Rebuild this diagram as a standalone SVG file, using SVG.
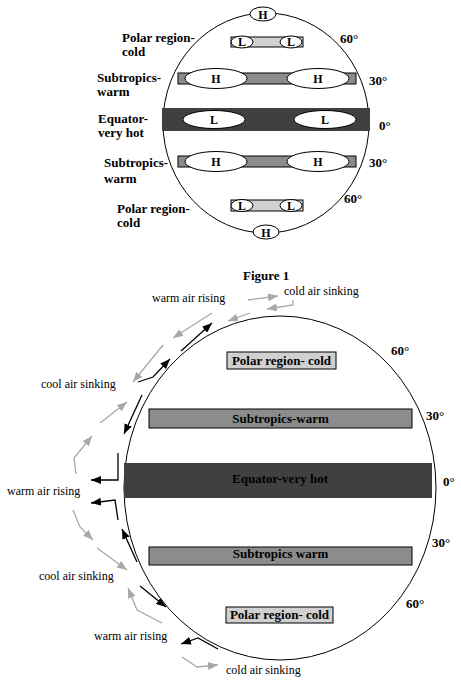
<svg xmlns="http://www.w3.org/2000/svg" width="461" height="683" viewBox="0 0 461 683">
<style>
.lb{font-family:"Liberation Serif","Times New Roman",serif;font-weight:bold;font-size:13px;fill:#000}
.hl{font-family:"Liberation Serif","Times New Roman",serif;font-weight:bold;font-size:12px;fill:#000;text-anchor:middle}
.rg{font-family:"Liberation Serif","Times New Roman",serif;font-size:12px;fill:#000}
.out{fill:none;stroke:#000;stroke-width:1}
.pol{fill:#d0d0d0;stroke:#000;stroke-width:1}
.sub{fill:#8c8c8c;stroke:#000;stroke-width:1}
.eq{fill:#404040}
.ov{fill:#fff;stroke:#000;stroke-width:1}
.bk{fill:none;stroke:#000;stroke-width:1.3;marker-end:url(#ab)}
.gy{fill:none;stroke:#a8a8a8;stroke-width:1.3;marker-end:url(#ag)}
</style>
<defs>
<marker id="ab" viewBox="0 0 10 8" refX="10" refY="4" markerWidth="10" markerHeight="8" markerUnits="userSpaceOnUse" orient="auto"><path d="M0,0 L10,4 L0,8 z" fill="#000"/></marker>
<marker id="ag" viewBox="0 0 10 8" refX="10" refY="4" markerWidth="10" markerHeight="8" markerUnits="userSpaceOnUse" orient="auto"><path d="M0,0 L10,4 L0,8 z" fill="#a8a8a8"/></marker>
</defs>
<rect width="461" height="683" fill="#fff"/>

<!-- Figure 1 -->
<g id="globe1">
<ellipse class="out" cx="266" cy="123" rx="103" ry="110"/>
</g>
<g id="equator1">
<rect class="eq" x="162" y="108" width="208" height="23"/>
<ellipse class="ov" cx="214" cy="119.5" rx="31" ry="9"/><text class="hl" x="214" y="124">L</text>
<ellipse class="ov" cx="325" cy="119.5" rx="31" ry="9"/><text class="hl" x="325" y="124">L</text>
</g>
<g id="subN1">
<rect class="sub" x="178" y="73" width="178" height="11"/>
<ellipse class="ov" cx="216" cy="78.5" rx="31" ry="10"/><text class="hl" x="216" y="83">H</text>
<ellipse class="ov" cx="318" cy="78.5" rx="31" ry="10"/><text class="hl" x="318" y="83">H</text>
</g>
<g id="subS1">
<rect class="sub" x="178" y="156" width="178" height="11"/>
<ellipse class="ov" cx="216" cy="161.5" rx="31" ry="10"/><text class="hl" x="216" y="166">H</text>
<ellipse class="ov" cx="318" cy="161.5" rx="31" ry="10"/><text class="hl" x="318" y="166">H</text>
</g>
<g id="polN1">
<rect class="pol" x="231" y="37" width="72" height="10"/>
<ellipse class="ov" cx="242" cy="42" rx="11" ry="6"/><text class="hl" x="242" y="46">L</text>
<ellipse class="ov" cx="291" cy="42" rx="11" ry="6"/><text class="hl" x="291" y="46">L</text>
</g>
<g id="polS1">
<rect class="pol" x="231" y="200" width="72" height="11"/>
<ellipse class="ov" cx="242" cy="205.5" rx="11" ry="6"/><text class="hl" x="242" y="210">L</text>
<ellipse class="ov" cx="291" cy="205.5" rx="11" ry="6"/><text class="hl" x="291" y="210">L</text>
</g>
<g id="poleN1">
<ellipse class="ov" cx="263" cy="14" rx="13" ry="7"/><text class="hl" x="263" y="18.5">H</text>
</g>
<g id="poleS1">
<ellipse class="ov" cx="266" cy="232" rx="13" ry="7"/><text class="hl" x="266" y="236.5">H</text>
</g>
<g id="labels1">
<text class="lb" x="122" y="42">Polar region-</text>
<text class="lb" x="122" y="56">cold</text>
<text class="lb" x="97" y="82">Subtropics-</text>
<text class="lb" x="97" y="96">warm</text>
<text class="lb" x="98" y="123">Equator-</text>
<text class="lb" x="98" y="137">very hot</text>
<text class="lb" x="104" y="167">Subtropics-</text>
<text class="lb" x="104" y="183">warm</text>
<text class="lb" x="117" y="213">Polar region-</text>
<text class="lb" x="117" y="227">cold</text>
<text class="lb" x="340" y="43">60°</text>
<text class="lb" x="369" y="85">30°</text>
<text class="lb" x="379" y="130">0°</text>
<text class="lb" x="369" y="167">30°</text>
<text class="lb" x="344" y="203">60°</text>
<text class="lb" x="243" y="280">Figure 1</text>
</g>

<!-- Figure 2 -->
<g id="globe2">
<ellipse class="out" cx="280" cy="488" rx="156" ry="172"/>
</g>
<g id="equator2">
<rect class="eq" x="124" y="463" width="308" height="35"/>
<text class="lb" x="280" y="483" text-anchor="middle" fill="#222">Equator-very hot</text>
</g>
<g id="polN2">
<rect class="pol" x="227" y="352" width="109" height="17"/>
<text class="lb" x="281.5" y="365" text-anchor="middle">Polar region- cold</text>
</g>
<g id="subN2">
<rect class="sub" x="149" y="409" width="263" height="19"/>
<text class="lb" x="280.5" y="423" text-anchor="middle">Subtropics-warm</text>
</g>
<g id="subS2">
<rect class="sub" x="149" y="547" width="263" height="18"/>
<text class="lb" x="280.5" y="558" text-anchor="middle">Subtropics warm</text>
</g>
<g id="polS2">
<rect class="pol" x="226" y="607" width="107" height="16"/>
<text class="lb" x="279.5" y="619" text-anchor="middle">Polar region- cold</text>
</g>
<g id="labels2">
<text class="lb" x="391" y="355">60°</text>
<text class="lb" x="426" y="420">30°</text>
<text class="lb" x="443" y="486">0°</text>
<text class="lb" x="432" y="547">30°</text>
<text class="lb" x="406" y="608">60°</text>
<text class="rg" x="152" y="302">warm air rising</text>
<text class="rg" x="284" y="295">cold air sinking</text>
<text class="rg" x="41" y="388">cool air sinking</text>
<text class="rg" x="7" y="495">warm air rising</text>
<text class="rg" x="39" y="580">cool air sinking</text>
<text class="rg" x="94" y="640">warm air rising</text>
<text class="rg" x="226" y="674">cold air sinking</text>
</g>

<g id="connectors">
<path class="bk" d="M181,351 L212,323"/>
<path class="bk" d="M138,382 L153,377 L170,359"/>
<path class="bk" d="M142,395 L124,434"/>
<path class="bk" d="M118,453 L118,480 L91,480"/>
<path class="bk" d="M118,520 L115,500 L91,503"/>
<path class="bk" d="M137,562 L122,529"/>
<path class="bk" d="M140,586 L166,607"/>
<path class="bk" d="M218,649 L198,638 L181,644"/>
<path class="gy" d="M212,313 L173,338"/>
<path class="gy" d="M163,345 L133,382"/>
<path class="gy" d="M100,423 L127,402"/>
<path class="gy" d="M76,474 L74,458 L92,436"/>
<path class="gy" d="M73,510 L80,527 L93,540"/>
<path class="gy" d="M97,548 L127,570"/>
<path class="gy" d="M162,623 L137,610 L128,588"/>
<path class="gy" d="M182,657 L197,667 L218,665"/>
<path class="gy" d="M248,300 L278,296"/>
<path class="gy" d="M293,300 L293,305 L267,309"/>
<path class="gy" d="M250,313 L228,321"/>
</g>
</svg>
